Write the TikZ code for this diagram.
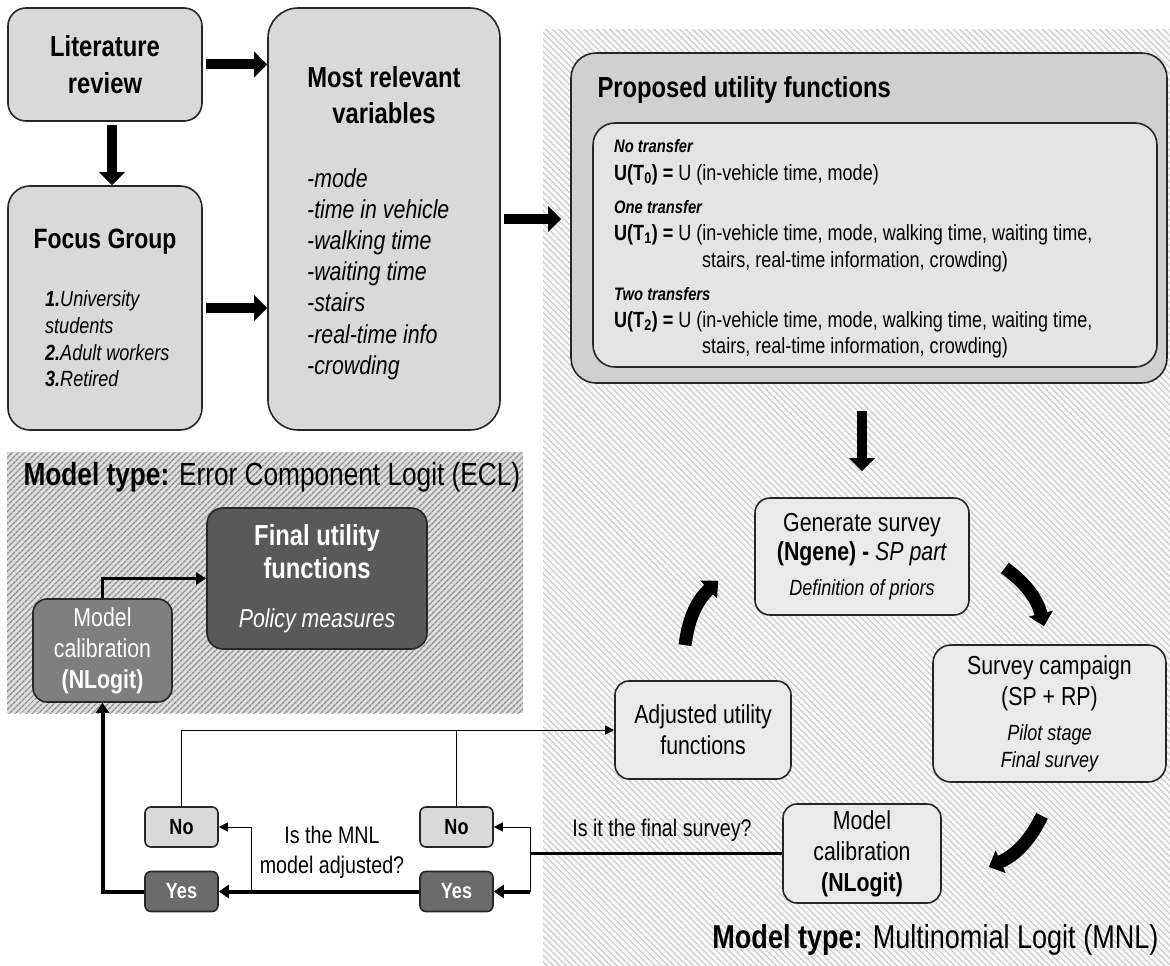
\documentclass[tikz,border=0pt]{standalone}
\usepackage{fontspec}
\setmainfont{Liberation Sans}[FakeStretch=0.82]
\usetikzlibrary{arrows.meta,patterns.meta}

\definecolor{lightbox}{HTML}{D9D9D9}
\definecolor{loopfill}{HTML}{EAEAEA}
\definecolor{innerfill}{HTML}{E4E4E4}
\definecolor{darkbox}{HTML}{595959}
\definecolor{midbox}{HTML}{7F7F7F}
\definecolor{yesbox}{HTML}{6B6B6B}
\definecolor{mnlback}{HTML}{F8F8F8}
\definecolor{mnlhatch}{HTML}{CDCDCD}
\definecolor{eclback}{HTML}{DEDEDE}
\definecolor{eclhatch}{HTML}{8E8E8E}

\begin{document}
\begin{tikzpicture}[x=1pt,y=-1pt]%[shorten >=1pt,->]

  \tikzstyle{box}=[draw=black!85,line width=1.6pt,fill=lightbox,inner sep=0pt]
  \tikzstyle{loopbox}=[box,fill=loopfill,rounded corners=15pt,align=center,font=\fontsize{26}{31}\selectfont]
  \tikzstyle{answer}=[box,rounded corners=6pt,minimum width=73pt,minimum height=40pt,font=\fontsize{22}{26}\selectfont\bfseries]
  \tikzstyle{blockarrow}=[line width=10pt,-{Triangle[length=13pt,width=25pt]},shorten <=3pt]
  \tikzstyle{curvearrow}=[line width=13pt,-{Triangle[length=13pt,width=24pt]}]
  \tikzstyle{thinarrow}=[line width=1pt,-{Triangle[length=9pt,width=9pt]}]
  \tikzstyle{yesarrow}=[line width=4pt,-{Triangle[length=10pt,width=13pt]}]
  \tikzstyle{eqline}=[anchor=base west,inner sep=0pt,font=\fontsize{22}{26}\selectfont]

  \useasboundingbox (0,0) rectangle (1170,966);

  % backgrounds of the two model types
  \fill[mnlback] (543,30) rectangle (1170,966);
  \fill[pattern={Lines[angle=-45,distance=4.5pt,line width=1.2pt]},pattern color=mnlhatch] (543,30) rectangle (1170,966);
  \fill[eclback] (7,452) rectangle (523,713);
  \fill[pattern={Lines[angle=45,distance=4pt,line width=1.4pt]},pattern color=eclhatch] (7,452) rectangle (523,713);

  \node[box,rounded corners=18pt,minimum width=194pt,minimum height=113pt,align=center,
        font=\fontsize{29}{37}\selectfont\bfseries] (litrev) at (105,64.5) {Literature\\review};
  \node[box,rounded corners=22pt,minimum width=194pt,minimum height=244pt] (focus) at (105,308) {};
  \node[font=\fontsize{28}{32}\selectfont\bfseries] (focustitle) at (105,242) {Focus Group};
  \foreach \name/\y/\txt in {fg-1/306/{\textbf{1.}University}, fg-2/333/students,
                             fg-3/360/{\textbf{2.}Adult workers}, fg-4/386/{\textbf{3.}Retired}}
    \node[anchor=base west,inner sep=0pt,font=\fontsize{22}{26}\selectfont\itshape] (\name) at (45,\y) {\txt};

  \node[box,rounded corners=30pt,minimum width=232pt,minimum height=422pt] (mrv) at (384,219) {};
  \node[align=center,font=\fontsize{29}{36}\selectfont\bfseries] (mrvtitle) at (384,95) {Most relevant\\variables};
  \foreach \var [count=\i from 0] in {mode,time in vehicle,walking time,waiting time,
                                      stairs,real-time info,crowding}
    \node[anchor=base west,inner sep=0pt,font=\fontsize{26}{31}\selectfont\itshape] (var-\i) at (307,187+31.2*\i) {-\var};

  \node[box,fill=lightbox!96!black,rounded corners=25pt,minimum width=596pt,minimum height=330pt] (proposed) at (869,218) {};
  \node[anchor=west,font=\fontsize{29}{34}\selectfont\bfseries] (proptitle) at (594,90) {Proposed utility functions};
  \node[box,fill=innerfill,rounded corners=22pt,minimum width=564pt,minimum height=244pt] (inner) at (875,245) {};
  \foreach \name/\y/\txt in {nt/152/No transfer, ot/213/One transfer, tt/300/Two transfers}
    \node[anchor=base west,inner sep=0pt,font=\fontsize{18}{20}\selectfont\bfseries\itshape] (\name) at (614,\y) {\txt};
  \node[eqline] (eq-0) at (614,180) {\textbf{U(T\textsubscript{0}) =} U (in-vehicle time, mode)};
  \node[eqline] (eq-1) at (614,240) {\textbf{U(T\textsubscript{1}) =} U (in-vehicle time, mode, walking time, waiting time,};
  \node[eqline] (eq-1b) at (702,267) {stairs, real-time information, crowding)};
  \node[eqline] (eq-2) at (614,327) {\textbf{U(T\textsubscript{2}) =} U (in-vehicle time, mode, walking time, waiting time,};
  \node[eqline] (eq-2b) at (702,353) {stairs, real-time information, crowding)};

  \node[loopbox,minimum width=214pt,minimum height=117pt] (gensurvey) at (862,556.5)
    {Generate survey\\[-2pt]\textbf{(Ngene) -} \textit{SP part}\\[4pt]{\fontsize{22}{26}\selectfont\itshape Definition of priors}};
  \node[loopbox,rounded corners=18pt,minimum width=233pt,minimum height=137pt] (campaign) at (1049.5,713.5)
    {Survey campaign\\(SP + RP)\\[4pt]{\fontsize{22}{27}\selectfont\itshape Pilot stage}\\[-4pt]{\fontsize{22}{27}\selectfont\itshape Final survey}};
  \node[loopbox,rounded corners=14pt,minimum width=176pt,minimum height=98pt] (adjusted) at (703,730) {Adjusted utility\\functions};
  \node[loopbox,rounded corners=14pt,minimum width=158pt,minimum height=99pt] (mcmnl) at (862,853.5) {Model\\calibration\\\textbf{(NLogit)}};

  \node[box,fill=darkbox,text=white,rounded corners=16pt,minimum width=220pt,minimum height=141pt,align=center,
        font=\fontsize{29}{33}\selectfont\bfseries] (final) at (317,578.5)
    {Final utility\\functions\\[16pt]{\fontsize{26}{30}\selectfont\mdseries\itshape Policy measures}};
  \node[box,fill=midbox,text=white,rounded corners=14pt,minimum width=139pt,minimum height=103pt,align=center,
        font=\fontsize{26}{31}\selectfont] (mcecl) at (102.5,650.5) {Model\\calibration\\\textbf{(NLogit)}};

  \foreach \name/\x/\y/\ans/\fillc/\txtc in {noL/181.5/827/No/lightbox/black, yesL/181.5/891.5/Yes/yesbox/white,
                                            noR/456.5/827/No/lightbox/black, yesR/456.5/891.5/Yes/yesbox/white}
    \node[answer,fill=\fillc,text=\txtc] (\name) at (\x,\y) {\ans};

  \node[align=center,font=\fontsize{24}{30}\selectfont] (qadjusted) at (332,852) {Is the MNL\\model adjusted?};
  \node[font=\fontsize{24}{28}\selectfont] (qfinal) at (662,830) {Is it the final survey?};

  \node[anchor=west,font=\fontsize{32}{36}\selectfont] (ecltitle) at (20,477) {\textbf{Model type:} Error Component Logit (ECL)};
  \node[anchor=east,font=\fontsize{33}{36}\selectfont] (mnltitle) at (1162,940) {\textbf{Model type:} Multinomial Logit (MNL)};

  \draw[blockarrow] (litrev.east) -- (litrev.east -| mrv.west);
  \draw[blockarrow] (focus.east) -- (focus.east -| mrv.west);
  \draw[blockarrow] ([xshift=7pt]litrev.south) -- ([xshift=7pt]focus.north);
  \draw[blockarrow,shorten >=9pt] (mrv.east) -- (mrv.east -| proposed.west);
  \draw[blockarrow,shorten <=27pt,shorten >=26pt] (proposed.south -| gensurvey.north) -- (gensurvey.north);

  \draw[curvearrow] ([shift={(-18,-35)}]adjusted.north) to[bend left=20] ([shift={(-36,-35)}]gensurvey.south west);
  \draw[curvearrow] ([shift={(35,11.5)}]gensurvey.east) to[bend left=20] ([shift={(-5.5,-18)}]campaign.north);
  \draw[curvearrow] ([shift={(-7.5,33)}]campaign.south) to[bend left=20] ([shift={(47,13.5)}]mcmnl.east);

  \coordinate (splitR) at (530,853.5);
  \coordinate (splitL) at (251,891.5);
  \draw[line width=3pt] (mcmnl.west) -- (splitR);
  \draw[line width=1pt] (noR.east -| splitR) -- (yesR.east -| splitR);
  \draw[thinarrow] (noR.east -| splitR) -- (noR.east);
  \draw[yesarrow] (yesR.east -| splitR) -- (yesR.east);
  \draw[yesarrow] (yesR.west) -- (yesL.east);
  \draw[thinarrow] (splitL) |- (noL.east);
  \draw[yesarrow] (yesL.west) -| (mcecl.south);
  \draw[thinarrow] (noL.north) |- (adjusted.west);
  \draw[line width=1pt] (noR.north) -- (noR.north |- adjusted.west);
  \draw[line width=3pt,-{Triangle[length=10pt,width=12pt]}] (mcecl.north) |- (final.west);
\end{tikzpicture}
\end{document}
